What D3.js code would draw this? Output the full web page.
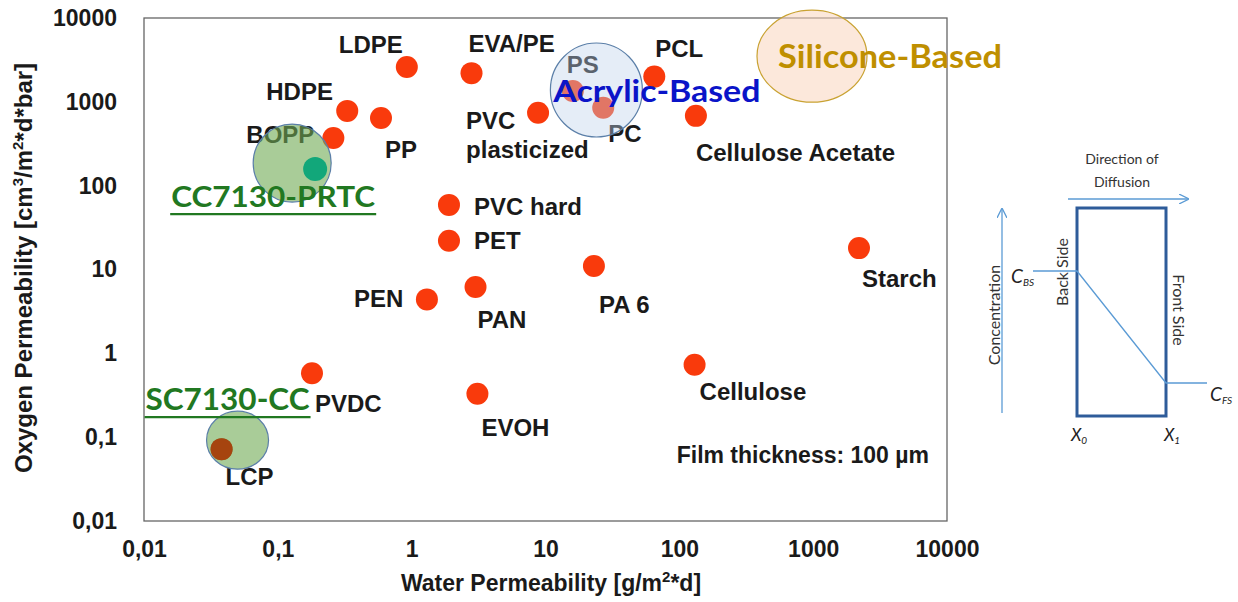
<!DOCTYPE html>
<html>
<head>
<meta charset="utf-8">
<script src="https://cdn.jsdelivr.net/npm/d3@7"></script>
<style>
  body { margin: 0; background: #fff; }
  svg { display: block; }
  .lbl { font-family: "Liberation Sans", Arial, sans-serif; font-weight: bold; fill: #1a1a1a; }
  .cal { font-family: Lato, "Open Sans", sans-serif; }
</style>
</head>
<body>
<svg id="chart" width="1238" height="602"></svg>
<script>
// Materials (red dots): water vs oxygen permeability
const materials = ['LDPE', 'EVA/PE', 'HDPE', 'PP', 'BOPP', 'PVC plasticized', 'PS', 'PC', 'PCL',
    'Cellulose Acetate', 'PVC hard', 'PET', 'PA 6', 'PAN', 'PEN', 'Starch', 'Cellulose', 'EVOH', 'PVDC', 'LCP'];
const waterPerm = [0.92, 2.8, 0.33, 0.59, 0.26, 8.8, 16, 27, 65, 133, 1.9, 1.9, 23, 3.0, 1.3, 2200, 130, 3.1, 0.18, 0.038];
const oxygenPerm = [2600, 2200, 780, 640, 370, 740, 1350, 850, 2000, 680, 59, 22, 11, 6.2, 4.4, 18, 0.73, 0.33, 0.58, 0.072];

// Coating regions (circles)
const coatings = ['CC7130-PRTC', 'SC7130-CC', 'Acrylic-Based', 'Silicone-Based'];
const coatingWater = [0.128, 0.05, 24, 980];
const coatingOxygen = [186, 0.092, 1385, 3500];

// Measured product point
const productWater = [0.19];
const productOxygen = [158];

// Axis ticks
const tickValues = [0.01, 0.1, 1, 10, 100, 1000, 10000];
const tickLabels = ['0,01', '0,1', '1', '10', '100', '1000', '10000'];

// Label placement (offset from dot, px)
const labelOffset = {
    'LDPE': [-68, -14], 'EVA/PE': [-3, -21], 'HDPE': [-81, -11], 'PP': [4, 40], 'BOPP': [-87, 5],
    'PVC plasticized': [-72, 16], 'PS': [-6, -18], 'PC': [5, 34], 'PCL': [1, -20],
    'Cellulose Acetate': [0, 45], 'PVC hard': [25, 10], 'PET': [25, 8], 'PA 6': [5, 47],
    'PAN': [2, 41], 'PEN': [-73, 8], 'Starch': [3, 39], 'Cellulose': [5, 35], 'EVOH': [4, 42],
    'PVDC': [3, 39], 'LCP': [4, 36]
};

// Coating styles
const coatingStyle = {
    'CC7130-PRTC': { rx: 39, ry: 39, fill: 'rgba(112,170,83,0.6)', stroke: '#5b7fa8', color: '#217821',
        dx: -121, dy: 44, size: 29, len: 204, underline: true },
    'SC7130-CC': { rx: 31, ry: 29, fill: 'rgba(112,170,83,0.6)', stroke: '#5b7fa8', color: '#217821',
        dx: -92, dy: -30, size: 30, len: 164, underline: true },
    'Acrylic-Based': { rx: 46, ry: 47, fill: 'rgba(190,210,235,0.4)', stroke: '#5b7fa8', color: '#0a14c8',
        dx: -43, dy: 12, size: 30, len: 207, underline: false },
    'Silicone-Based': { rx: 55, ry: 46, fill: 'rgba(250,214,190,0.55)', stroke: '#c9a232', color: '#bf8f00',
        dx: -34, dy: 12, size: 33, len: 224, underline: false }
};

const svg = d3.select('#chart');

const x = d3.scaleLog().domain([0.01, 10000]).range([144, 947]);
const y = d3.scaleLog().domain([0.01, 10000]).range([521, 18]);

// Frame
svg.append('rect')
    .attr('x', 144).attr('y', 18)
    .attr('width', 947 - 144).attr('height', 521 - 18)
    .attr('fill', 'none')
    .attr('stroke', '#666')
    .attr('stroke-width', 1.3);

// Axes (labels only)
const xAxis = svg.append('g')
    .attr('transform', 'translate(0,521)')
    .call(d3.axisBottom(x).tickValues(tickValues).tickSize(0).tickPadding(20)
        .tickFormat((d, i) => tickLabels[i]));
const yAxis = svg.append('g')
    .attr('transform', 'translate(144,0)')
    .call(d3.axisLeft(y).tickValues(tickValues).tickSize(0).tickPadding(27)
        .tickFormat((d, i) => tickLabels[i]));
[xAxis, yAxis].forEach(a => {
    a.select('.domain').remove();
    a.selectAll('text')
        .attr('class', 'lbl')
        .attr('font-size', 23)
        .attr('fill', '#1a1a1a');
});

// Axis titles
const xTitle = svg.append('text')
    .attr('class', 'lbl')
    .attr('x', 551).attr('y', 591)
    .attr('text-anchor', 'middle')
    .attr('font-size', 23);
xTitle.append('tspan').text('Water Permeability [g/m');
xTitle.append('tspan').attr('font-size', 15).attr('dy', -9).text('2');
xTitle.append('tspan').attr('dy', 9).text('*d]');

const yTitle = svg.append('text')
    .attr('class', 'lbl')
    .attr('transform', 'translate(32,268) rotate(-90)')
    .attr('text-anchor', 'middle')
    .attr('font-size', 24);
yTitle.append('tspan').text('Oxygen Permeability [cm');
yTitle.append('tspan').attr('font-size', 15).attr('dy', -9).text('3');
yTitle.append('tspan').attr('dy', 9).text('/m');
yTitle.append('tspan').attr('font-size', 15).attr('dy', -9).text('2');
yTitle.append('tspan').attr('dy', 9).text('*d*bar]');

// Material dots
materials.forEach((m, i) => {
    svg.append('circle')
        .attr('cx', x(waterPerm[i]))
        .attr('cy', y(oxygenPerm[i]))
        .attr('r', 11)
        .attr('fill', m === 'LCP' ? '#a6440f' : '#f93a0c');
});

// Material labels
materials.forEach((m, i) => {
    const [dx, dy] = labelOffset[m];
    const t = svg.append('text')
        .attr('class', 'lbl')
        .attr('font-size', 24)
        .attr('x', x(waterPerm[i]) + dx)
        .attr('y', y(oxygenPerm[i]) + dy);
    if (m === 'PVC plasticized') {
        t.append('tspan').text('PVC');
        t.append('tspan').attr('x', x(waterPerm[i]) + dx).attr('dy', 29).text('plasticized');
    } else {
        t.text(m);
    }
});

// Coating circles (drawn over dots, translucent)
coatings.forEach((c, i) => {
    const s = coatingStyle[c];
    svg.append('ellipse')
        .attr('cx', x(coatingWater[i]))
        .attr('cy', y(coatingOxygen[i]))
        .attr('rx', s.rx).attr('ry', s.ry)
        .attr('fill', s.fill)
        .attr('stroke', s.stroke)
        .attr('stroke-width', 1.2);
});

// LCP dot sits on top of the SC7130 region
svg.append('circle')
    .attr('cx', x(waterPerm[19])).attr('cy', y(oxygenPerm[19]))
    .attr('r', 11).attr('fill', '#a6440f');

// Product point
svg.selectAll('circle.product')
    .data(productWater)
    .enter()
    .append('circle')
    .attr('class', 'product')
    .attr('cx', d => x(d))
    .attr('cy', (d, i) => y(productOxygen[i]))
    .attr('r', 12)
    .attr('fill', '#12a77a');

// Coating labels
coatings.forEach((c, i) => {
    const s = coatingStyle[c];
    const tx = x(coatingWater[i]) + s.dx;
    const ty = y(coatingOxygen[i]) + s.dy;
    svg.append('text')
        .attr('class', 'cal')
        .attr('x', tx).attr('y', ty)
        .attr('font-size', s.size)
        .attr('font-weight', 'bold')
        .attr('fill', s.color)
        .attr('textLength', s.len)
        .attr('lengthAdjust', 'spacingAndGlyphs')
        .text(c);
    if (s.underline) {
        svg.append('line')
            .attr('x1', tx - 1).attr('x2', tx + s.len + 1)
            .attr('y1', ty + 7).attr('y2', ty + 7)
            .attr('stroke', s.color)
            .attr('stroke-width', 2.2);
    }
});

// Film thickness note
svg.append('text')
    .attr('class', 'lbl')
    .attr('x', 929).attr('y', 463)
    .attr('text-anchor', 'end')
    .attr('font-size', 23)
    .text('Film thickness: 100 µm');

// ---- Diffusion schematic ----
const blue = '#5b9bd5';
const dg = svg.append('g');

dg.append('defs').append('marker')
    .attr('id', 'arr')
    .attr('viewBox', '0 0 10 10')
    .attr('refX', 9).attr('refY', 5)
    .attr('markerWidth', 10).attr('markerHeight', 10)
    .attr('markerUnits', 'userSpaceOnUse')
    .attr('orient', 'auto')
    .append('path')
    .attr('d', 'M0,0 L10,5 L0,10')
    .attr('fill', 'none')
    .attr('stroke', blue)
    .attr('stroke-width', 1.3);

dg.append('text').attr('class', 'cal')
    .attr('x', 1122).attr('y', 164).attr('text-anchor', 'middle')
    .attr('font-size', 14).attr('fill', '#333').text('Direction of');
dg.append('text').attr('class', 'cal')
    .attr('x', 1122).attr('y', 187).attr('text-anchor', 'middle')
    .attr('font-size', 14).attr('fill', '#333').text('Diffusion');

dg.append('line')
    .attr('x1', 1068).attr('y1', 199).attr('x2', 1188).attr('y2', 199)
    .attr('stroke', blue).attr('stroke-width', 1.3)
    .attr('marker-end', 'url(#arr)');

dg.append('line')
    .attr('x1', 1002).attr('y1', 413).attr('x2', 1002).attr('y2', 209)
    .attr('stroke', blue).attr('stroke-width', 1.3)
    .attr('marker-end', 'url(#arr)');

dg.append('rect')
    .attr('x', 1077).attr('y', 208).attr('width', 89).attr('height', 208)
    .attr('fill', 'none').attr('stroke', '#2e5c9a').attr('stroke-width', 3);

dg.append('polyline')
    .attr('points', '1033,271 1077,271 1166,383 1207,383')
    .attr('fill', 'none').attr('stroke', blue).attr('stroke-width', 1.3);

dg.append('text').attr('class', 'cal')
    .attr('transform', 'translate(1000,315) rotate(-90)')
    .attr('text-anchor', 'middle').attr('font-size', 16).attr('fill', '#333')
    .text('Concentration');
dg.append('text').attr('class', 'cal')
    .attr('transform', 'translate(1068,272) rotate(-90)')
    .attr('text-anchor', 'middle').attr('font-size', 16).attr('fill', '#333')
    .text('Back Side');
dg.append('text').attr('class', 'cal')
    .attr('transform', 'translate(1173,310) rotate(90)')
    .attr('text-anchor', 'middle').attr('font-size', 16).attr('fill', '#333')
    .text('Front Side');

const cbs = dg.append('text').attr('class', 'cal')
    .attr('x', 1011).attr('y', 283).attr('font-style', 'italic')
    .attr('font-size', 19).attr('fill', '#222');
cbs.append('tspan').text('C');
cbs.append('tspan').attr('font-size', 10).attr('dy', 3).text('BS');

const cfs = dg.append('text').attr('class', 'cal')
    .attr('x', 1210).attr('y', 401).attr('font-style', 'italic')
    .attr('font-size', 19).attr('fill', '#222');
cfs.append('tspan').text('C');
cfs.append('tspan').attr('font-size', 10).attr('dy', 3).text('FS');

const x0 = dg.append('text').attr('class', 'cal')
    .attr('x', 1071).attr('y', 441).attr('font-style', 'italic')
    .attr('font-size', 17).attr('fill', '#222');
x0.append('tspan').text('X');
x0.append('tspan').attr('font-size', 10).attr('dy', 3).text('0');

const x1 = dg.append('text').attr('class', 'cal')
    .attr('x', 1164).attr('y', 441).attr('font-style', 'italic')
    .attr('font-size', 17).attr('fill', '#222');
x1.append('tspan').text('X');
x1.append('tspan').attr('font-size', 10).attr('dy', 3).text('1');
</script>
</body>
</html>
